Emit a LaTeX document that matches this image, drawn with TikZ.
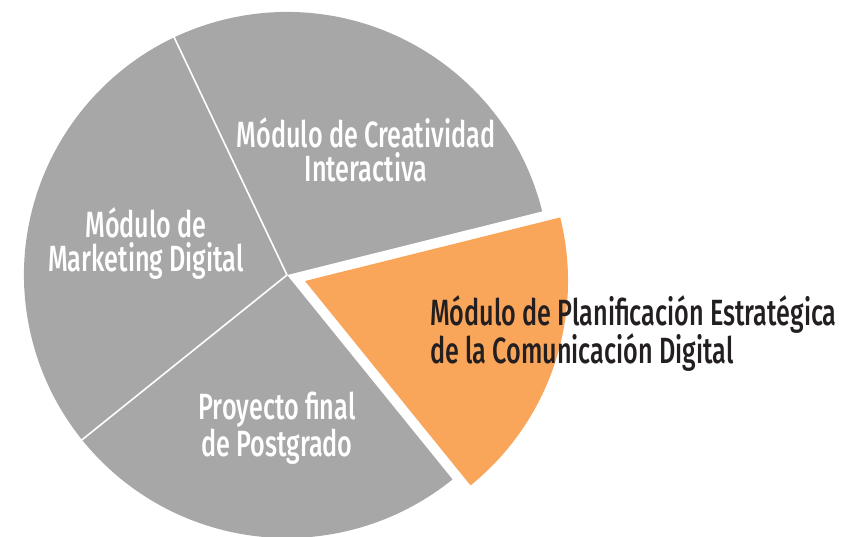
\documentclass[tikz,border=0pt]{standalone}
\usepackage{fontspec}
\usetikzlibrary{calc}
\setmainfont{Fira Sans}[UprightFont=* Medium, FakeStretch=0.69]
\definecolor{piegray}{HTML}{A7A7A7}
\definecolor{pieorange}{HTML}{F9A55A}
\definecolor{darktext}{HTML}{231F20}
\begin{document}
\begin{tikzpicture}[x=1pt,y=1pt,
  lbl/.style={inner sep=0pt, font=\fontsize{36.5}{34}\selectfont, align=center},
  sepline/.style={draw=white, line width=1.6pt}]
\useasboundingbox (0,0) rectangle (854,536);
\def\R{263}
\coordinate (c) at (287,261);
\coordinate (oc) at ($(c)+(-18.5:19)$);
% gray slices
\fill[piegray] (c) -- ++(14:\R) arc[start angle=14, end angle=309, radius=\R] -- cycle;
\coordinate (e1) at ($(c)+(115.4:\R+2)$);
\coordinate (e2) at ($(c)+(218.8:\R+2)$);
\draw[sepline] (c) -- (e1);
\draw[sepline] (c) -- (e2);
% orange slice
\fill[pieorange] (oc) -- ++(-51:\R) arc[start angle=-51, end angle=14, radius=\R] -- cycle;
% labels
\node[lbl, text=white, anchor=base] (creat) at (366,354) {Módulo de Creatividad\\Interactiva};
\node[lbl, text=white, anchor=base] (mkt) at (146,264) {Módulo de\\Marketing Digital};
\node[lbl, text=white, anchor=base] (proy) at (277,80) {Proyecto final\\de Postgrado};
\node[lbl, text=darktext, anchor=base west, align=left] (plan) at (430,172) {Módulo de Planificación Estratégica\\de la Comunicación Digital};
\end{tikzpicture}
\end{document}
